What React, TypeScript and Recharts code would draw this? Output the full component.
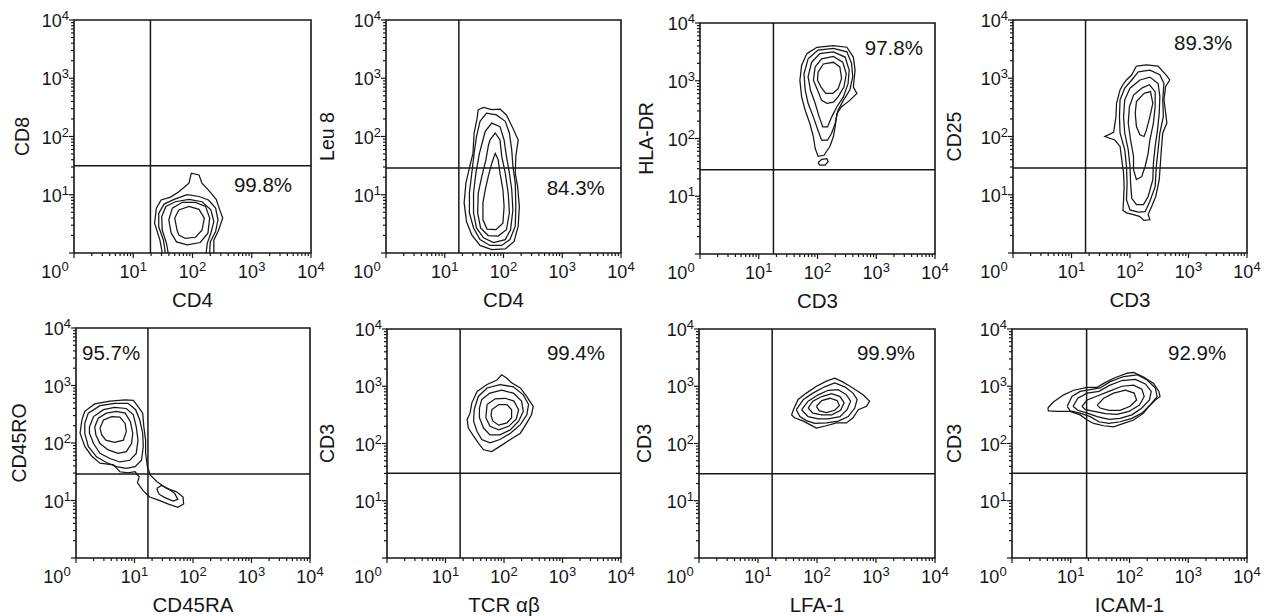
import React from 'react';
import { ScatterChart, Scatter, XAxis, YAxis, ReferenceLine, ReferenceArea, ReferenceDot } from 'recharts';

type Pt = [number, number];

const FONT = '"Liberation Sans", Arial, Helvetica, sans-serif';
const INK = '#161616';

// Axis decades (exponents of 10) and minor log ticks
const DECADES = [0, 1, 2, 3, 4];
const MINOR_MULTIPLIERS = [2, 3, 4, 5, 6, 7, 8, 9];

// Panel texts and gates (values in log10 decades)
const xTitles = ['CD4', 'CD4', 'CD3', 'CD3', 'CD45RA', 'TCR αβ', 'LFA-1', 'ICAM-1'];
const yTitles = ['CD8', 'Leu 8', 'HLA-DR', 'CD25', 'CD45RO', 'CD3', 'CD3', 'CD3'];
const percents = ['99.8%', '84.3%', '97.8%', '89.3%', '95.7%', '99.4%', '99.9%', '92.9%'];
const percentPos: Pt[] = [[3.19, 1.17], [3.23, 1.13], [3.3, 3.58], [3.25, 3.61], [0.6, 3.57], [3.23, 3.59], [3.17, 3.59], [3.15, 3.59]];
const gateX = [1.29, 1.24, 1.25, 1.24, 1.23, 1.25, 1.24, 1.27];
const gateY = [1.5, 1.46, 1.46, 1.46, 1.46, 1.48, 1.47, 1.48];

// ---- Panel 1: CD4 / CD8
const p1c1: Pt[] = [[1.49,0],[1.45,0.22],[1.36,0.51],[1.39,0.77],[1.47,0.91],[1.63,0.96],[1.77,1.05],[1.94,1.2],[1.98,1.37],[2.11,1.34],[2.16,1.2],[2.27,1.08],[2.4,0.92],[2.46,0.74],[2.51,0.6],[2.44,0.39],[2.36,0.22],[2.36,0]];
const p1c2: Pt[] = [[1.54,0],[1.51,0.22],[1.43,0.45],[1.43,0.68],[1.52,0.84],[1.69,0.92],[1.91,1.0],[2.11,0.97],[2.27,0.91],[2.39,0.77],[2.43,0.57],[2.39,0.37],[2.3,0.19],[2.29,0]];
const p1c3: Pt[] = [[1.59,0],[1.56,0.17],[1.49,0.39],[1.48,0.62],[1.55,0.8],[1.71,0.88],[1.94,0.92],[2.16,0.88],[2.31,0.74],[2.36,0.54],[2.31,0.34],[2.25,0.17],[2.23,0]];
const p1c4: Pt[] = [[1.64,0.34],[1.6,0.57],[1.66,0.77],[1.83,0.87],[2.05,0.87],[2.22,0.8],[2.29,0.6],[2.26,0.34],[2.13,0.18],[1.91,0.14],[1.73,0.19],[1.64,0.34]];
const p1c5: Pt[] = [[1.74,0.39],[1.7,0.6],[1.77,0.74],[1.94,0.8],[2.11,0.75],[2.2,0.6],[2.16,0.39],[2.05,0.27],[1.88,0.25],[1.77,0.31],[1.74,0.39]];

// ---- Panel 2: CD4 / Leu 8
const p2c1: Pt[] = [[1.57,2.46],[1.66,2.5],[1.8,2.46],[1.94,2.47],[2.05,2.37],[2.16,2.14],[2.25,1.94],[2.21,1.66],[2.2,1.37],[2.24,1.14],[2.27,0.8],[2.25,0.46],[2.18,0.2],[2.03,0.07],[1.8,0.06],[1.6,0.13],[1.46,0.31],[1.37,0.54],[1.33,0.86],[1.36,1.2],[1.42,1.46],[1.48,1.71],[1.5,2.06],[1.55,2.31],[1.57,2.46]];
const p2c2: Pt[] = [[1.6,2.26],[1.71,2.4],[1.88,2.37],[2.03,2.26],[2.1,2.06],[2.14,1.77],[2.16,1.49],[2.2,1.2],[2.21,0.8],[2.2,0.46],[2.11,0.23],[1.97,0.13],[1.77,0.13],[1.6,0.23],[1.49,0.43],[1.42,0.69],[1.42,1.03],[1.46,1.37],[1.5,1.71],[1.54,2.0],[1.6,2.26]];
const p2c3: Pt[] = [[1.69,2.09],[1.8,2.23],[1.94,2.17],[2.01,1.94],[2.05,1.66],[2.1,1.37],[2.14,1.09],[2.16,0.74],[2.12,0.4],[2.03,0.23],[1.83,0.18],[1.66,0.26],[1.54,0.43],[1.49,0.69],[1.49,1.03],[1.53,1.37],[1.59,1.71],[1.65,1.94],[1.69,2.09]];
const p2c4: Pt[] = [[1.77,1.94],[1.86,2.06],[1.94,1.94],[1.97,1.66],[2.03,1.37],[2.08,1.03],[2.1,0.69],[2.05,0.4],[1.91,0.29],[1.74,0.3],[1.61,0.43],[1.56,0.69],[1.57,1.03],[1.63,1.31],[1.7,1.6],[1.74,1.83],[1.77,1.94]];
const p2c5: Pt[] = [[1.8,1.54],[1.86,1.71],[1.91,1.6],[1.94,1.37],[1.99,1.09],[2.01,0.8],[1.99,0.51],[1.87,0.4],[1.72,0.41],[1.65,0.57],[1.65,0.86],[1.69,1.09],[1.74,1.31],[1.8,1.54]];

// ---- Panel 3: CD3 / HLA-DR
const p3c1: Pt[] = [[1.82,3.47],[1.99,3.58],[2.27,3.61],[2.5,3.58],[2.61,3.41],[2.64,3.18],[2.61,2.89],[2.67,2.78],[2.55,2.66],[2.41,2.55],[2.33,2.43],[2.3,2.2],[2.27,2.03],[2.21,1.86],[2.11,1.71],[2.01,1.69],[1.96,1.83],[1.93,2.03],[1.87,2.26],[1.79,2.49],[1.73,2.72],[1.7,3.01],[1.73,3.27],[1.82,3.47]];
const p3island: Pt[] = [[2.01,1.58],[2.07,1.64],[2.16,1.65],[2.18,1.6],[2.13,1.54],[2.04,1.54],[2.01,1.58]];
const p3c2: Pt[] = [[1.84,3.38],[2.01,3.53],[2.27,3.56],[2.5,3.5],[2.58,3.3],[2.6,3.07],[2.55,2.84],[2.44,2.66],[2.35,2.49],[2.3,2.26],[2.24,2.09],[2.17,1.97],[2.07,1.97],[2.01,2.14],[1.93,2.37],[1.84,2.61],[1.79,2.84],[1.77,3.12],[1.84,3.38]];
const p3c3: Pt[] = [[1.9,3.32],[2.04,3.47],[2.27,3.5],[2.47,3.41],[2.54,3.18],[2.52,2.95],[2.44,2.72],[2.33,2.55],[2.24,2.37],[2.17,2.2],[2.09,2.2],[2.03,2.37],[1.96,2.61],[1.88,2.84],[1.84,3.07],[1.9,3.32]];
const p3c4: Pt[] = [[1.96,3.24],[2.07,3.38],[2.27,3.42],[2.43,3.32],[2.49,3.12],[2.45,2.89],[2.35,2.72],[2.27,2.63],[2.16,2.61],[2.07,2.66],[2.0,2.84],[1.93,3.01],[1.96,3.24]];
const p3c5: Pt[] = [[2.01,3.15],[2.1,3.29],[2.27,3.32],[2.38,3.24],[2.41,3.04],[2.35,2.86],[2.26,2.78],[2.14,2.78],[2.06,2.89],[2.0,3.01],[2.01,3.15]];

// ---- Panel 4: CD3 / CD25
const p4c1: Pt[] = [[2.11,3.21],[2.28,3.23],[2.48,3.21],[2.63,3.04],[2.68,2.97],[2.61,2.86],[2.58,2.63],[2.61,2.4],[2.63,2.23],[2.56,2.06],[2.54,1.83],[2.52,1.54],[2.5,1.26],[2.44,0.97],[2.37,0.8],[2.31,0.66],[2.34,0.57],[2.24,0.56],[2.16,0.63],[2.06,0.66],[1.94,0.69],[1.88,0.73],[1.89,0.91],[1.9,1.14],[1.89,1.37],[1.86,1.6],[1.83,1.83],[1.74,1.94],[1.57,2.0],[1.72,2.07],[1.76,2.34],[1.77,2.57],[1.83,2.8],[1.88,2.89],[1.94,2.97],[2.03,3.06],[2.11,3.21]];
const p4c2: Pt[] = [[2.14,3.11],[2.34,3.14],[2.51,3.06],[2.58,2.91],[2.56,2.63],[2.57,2.34],[2.51,2.06],[2.48,1.77],[2.45,1.49],[2.43,1.14],[2.34,0.89],[2.26,0.71],[2.14,0.7],[2.0,0.74],[1.94,0.91],[1.95,1.2],[1.94,1.49],[1.91,1.77],[1.83,2.06],[1.82,2.34],[1.83,2.63],[1.91,2.83],[2.03,2.97],[2.14,3.11]];
const p4c3: Pt[] = [[2.17,2.97],[2.34,3.02],[2.48,2.91],[2.51,2.69],[2.5,2.4],[2.47,2.11],[2.43,1.83],[2.4,1.54],[2.39,1.26],[2.31,0.97],[2.23,0.83],[2.11,0.83],[2.03,0.94],[2.01,1.2],[2.0,1.49],[1.97,1.77],[1.91,2.06],[1.89,2.34],[1.91,2.63],[2.0,2.83],[2.17,2.97]];
const p4c4: Pt[] = [[2.2,2.83],[2.33,2.89],[2.43,2.77],[2.43,2.51],[2.4,2.23],[2.34,1.94],[2.31,1.71],[2.26,1.49],[2.2,1.31],[2.11,1.26],[2.06,1.43],[2.06,1.66],[2.01,1.94],[1.97,2.23],[1.99,2.51],[2.06,2.71],[2.2,2.83]];
const p4c5: Pt[] = [[2.24,2.74],[2.35,2.77],[2.39,2.57],[2.34,2.34],[2.28,2.11],[2.24,2.0],[2.17,2.03],[2.11,2.17],[2.09,2.4],[2.11,2.6],[2.24,2.74]];

// ---- Panel 5: CD45RA / CD45RO
const p5c1: Pt[] = [[0.1,2.4],[0.15,2.55],[0.32,2.68],[0.58,2.73],[0.84,2.75],[0.98,2.74],[1.05,2.65],[1.14,2.52],[1.16,2.28],[1.19,2.05],[1.19,1.82],[1.22,1.59],[1.27,1.44],[1.38,1.33],[1.55,1.21],[1.72,1.15],[1.83,1.06],[1.84,0.94],[1.74,0.88],[1.57,0.94],[1.4,1.01],[1.26,1.06],[1.14,1.18],[1.05,1.31],[1.08,1.41],[1.01,1.5],[0.89,1.48],[0.75,1.5],[0.64,1.62],[0.41,1.65],[0.27,1.77],[0.15,1.94],[0.07,2.17],[0.1,2.4]];
const p5tail: Pt[] = [[1.38,1.21],[1.46,1.26],[1.57,1.21],[1.69,1.12],[1.74,1.02],[1.66,0.99],[1.52,1.05],[1.42,1.11],[1.38,1.21]];
const p5c2: Pt[] = [[0.15,2.34],[0.21,2.52],[0.41,2.65],[0.66,2.69],[0.89,2.69],[1.02,2.58],[1.09,2.4],[1.14,2.17],[1.15,1.94],[1.12,1.7],[1.01,1.59],[0.86,1.56],[0.69,1.59],[0.52,1.66],[0.35,1.76],[0.21,1.94],[0.15,2.17],[0.15,2.34]];
const p5c3: Pt[] = [[0.23,2.28],[0.3,2.46],[0.47,2.58],[0.66,2.62],[0.86,2.6],[0.98,2.49],[1.03,2.28],[1.06,2.05],[1.03,1.82],[0.92,1.7],[0.75,1.67],[0.58,1.73],[0.41,1.82],[0.3,1.99],[0.23,2.17],[0.23,2.28]];
const p5c4: Pt[] = [[0.32,2.28],[0.38,2.43],[0.52,2.52],[0.69,2.55],[0.84,2.52],[0.93,2.37],[0.97,2.17],[0.95,1.99],[0.86,1.85],[0.72,1.82],[0.55,1.88],[0.41,1.99],[0.34,2.14],[0.32,2.28]];
const p5c5: Pt[] = [[0.41,2.26],[0.47,2.4],[0.61,2.46],[0.75,2.45],[0.84,2.34],[0.86,2.2],[0.81,2.05],[0.66,2.01],[0.51,2.05],[0.44,2.14],[0.41,2.26]];

// ---- Panel 6: TCR ab / CD3
const p6c1: Pt[] = [[1.54,2.91],[1.71,3.03],[1.88,3.11],[1.96,3.2],[2.05,3.14],[2.13,3.06],[2.28,2.97],[2.39,2.82],[2.5,2.65],[2.47,2.5],[2.39,2.36],[2.28,2.18],[2.11,2.07],[1.93,1.95],[1.79,1.86],[1.65,1.89],[1.56,2.01],[1.48,2.13],[1.39,2.27],[1.37,2.42],[1.42,2.53],[1.45,2.71],[1.54,2.91]];
const p6c2: Pt[] = [[1.56,2.82],[1.71,2.97],[1.93,3.03],[2.16,2.99],[2.33,2.85],[2.42,2.68],[2.39,2.5],[2.28,2.33],[2.11,2.18],[1.93,2.07],[1.76,2.01],[1.62,2.07],[1.54,2.21],[1.48,2.39],[1.49,2.59],[1.56,2.82]];
const p6c3: Pt[] = [[1.62,2.77],[1.76,2.88],[1.96,2.93],[2.16,2.88],[2.3,2.74],[2.33,2.56],[2.25,2.39],[2.11,2.24],[1.93,2.15],[1.76,2.15],[1.65,2.27],[1.58,2.45],[1.58,2.62],[1.62,2.77]];
const p6c4: Pt[] = [[1.71,2.68],[1.85,2.78],[2.02,2.79],[2.17,2.74],[2.25,2.59],[2.21,2.43],[2.08,2.3],[1.91,2.24],[1.76,2.3],[1.69,2.45],[1.71,2.68]];
const p6c5: Pt[] = [[1.79,2.59],[1.91,2.68],[2.05,2.68],[2.13,2.59],[2.13,2.45],[2.05,2.36],[1.91,2.32],[1.81,2.39],[1.78,2.49],[1.79,2.59]];

// ---- Panel 7: LFA-1 / CD3
const p7c1: Pt[] = [[1.6,2.59],[1.68,2.77],[1.82,2.88],[1.99,3.0],[2.16,3.09],[2.3,3.14],[2.41,3.09],[2.56,3.0],[2.7,2.91],[2.78,2.85],[2.89,2.74],[2.84,2.65],[2.7,2.59],[2.61,2.45],[2.5,2.36],[2.33,2.36],[2.16,2.31],[1.99,2.27],[1.88,2.33],[1.77,2.39],[1.62,2.45],[1.57,2.5],[1.6,2.59]];
const p7c2: Pt[] = [[1.65,2.59],[1.77,2.77],[1.93,2.88],[2.13,2.99],[2.3,3.06],[2.47,2.99],[2.61,2.88],[2.68,2.77],[2.64,2.62],[2.53,2.47],[2.36,2.39],[2.16,2.36],[1.96,2.35],[1.82,2.4],[1.71,2.47],[1.65,2.59]];
const p7c3: Pt[] = [[1.74,2.59],[1.85,2.74],[2.02,2.85],[2.19,2.93],[2.36,2.94],[2.5,2.85],[2.57,2.74],[2.51,2.59],[2.39,2.47],[2.19,2.43],[2.02,2.43],[1.85,2.47],[1.74,2.59]];
const p7c4: Pt[] = [[1.85,2.62],[1.93,2.74],[2.08,2.82],[2.25,2.87],[2.39,2.82],[2.46,2.71],[2.4,2.58],[2.25,2.5],[2.08,2.5],[1.93,2.53],[1.85,2.62]];
const p7c5: Pt[] = [[1.99,2.65],[2.08,2.75],[2.22,2.79],[2.34,2.75],[2.38,2.66],[2.3,2.58],[2.16,2.54],[2.04,2.57],[1.99,2.65]];

// ---- Panel 8: ICAM-1 / CD3
const p8c1: Pt[] = [[0.61,2.62],[0.71,2.73],[0.88,2.85],[1.05,2.93],[1.28,2.98],[1.45,2.98],[1.56,3.05],[1.73,3.14],[1.96,3.23],[2.07,3.24],[2.24,3.16],[2.41,3.05],[2.5,2.91],[2.52,2.82],[2.44,2.76],[2.33,2.65],[2.24,2.53],[2.07,2.41],[1.9,2.35],[1.73,2.29],[1.56,2.31],[1.39,2.35],[1.28,2.41],[1.16,2.5],[0.99,2.56],[0.77,2.56],[0.62,2.57],[0.61,2.62]];
const p8c2: Pt[] = [[0.94,2.65],[1.02,2.82],[1.16,2.91],[1.33,2.94],[1.5,2.97],[1.67,3.08],[1.9,3.17],[2.13,3.2],[2.3,3.11],[2.44,2.97],[2.47,2.82],[2.35,2.67],[2.21,2.53],[2.04,2.44],[1.84,2.38],[1.65,2.35],[1.48,2.38],[1.33,2.47],[1.16,2.53],[0.99,2.57],[0.94,2.65]];
const p8c3: Pt[] = [[1.04,2.65],[1.12,2.79],[1.28,2.88],[1.48,2.91],[1.65,3.01],[1.87,3.1],[2.1,3.12],[2.27,3.04],[2.37,2.91],[2.34,2.76],[2.21,2.62],[2.04,2.5],[1.84,2.44],[1.65,2.42],[1.45,2.47],[1.28,2.53],[1.12,2.58],[1.04,2.65]];
const p8c4: Pt[] = [[1.19,2.65],[1.28,2.76],[1.45,2.83],[1.65,2.91],[1.87,3.0],[2.07,3.02],[2.21,2.95],[2.25,2.82],[2.17,2.67],[1.99,2.56],[1.79,2.51],[1.59,2.52],[1.4,2.56],[1.25,2.59],[1.19,2.65]];
const p8c5: Pt[] = [[1.45,2.67],[1.56,2.79],[1.73,2.88],[1.93,2.93],[2.08,2.88],[2.12,2.76],[2.01,2.65],[1.84,2.58],[1.65,2.58],[1.5,2.62],[1.45,2.67]];

const panelContours: Pt[][][] = [
  [p1c1, p1c2, p1c3, p1c4, p1c5],
  [p2c1, p2c2, p2c3, p2c4, p2c5],
  [p3c1, p3island, p3c2, p3c3, p3c4, p3c5],
  [p4c1, p4c2, p4c3, p4c4, p4c5],
  [p5c1, p5tail, p5c2, p5c3, p5c4, p5c5],
  [p6c1, p6c2, p6c3, p6c4, p6c5],
  [p7c1, p7c2, p7c3, p7c4, p7c5],
  [p8c1, p8c2, p8c3, p8c4, p8c5],
];

// Layout (pixel box of each plot area) — presentation only
const boxes = [
  { left: 74, top: 20, w: 237, h: 233, yOff: 52 },
  { left: 386, top: 20, w: 235, h: 233, yOff: 59 },
  { left: 700, top: 23, w: 235, h: 231, yOff: 54 },
  { left: 1013, top: 20, w: 234, h: 233, yOff: 59 },
  { left: 76, top: 328, w: 234, h: 230, yOff: 57 },
  { left: 387, top: 329, w: 234, h: 229, yOff: 60 },
  { left: 699, top: 329, w: 236, h: 229, yOff: 55 },
  { left: 1012, top: 329, w: 235, h: 229, yOff: 58 },
];

const minorTicks: number[] = [];
DECADES.slice(0, -1).forEach((d) => MINOR_MULTIPLIERS.forEach((m) => minorTicks.push(d + Math.log10(m))));
const allTicks = [...DECADES, ...minorTicks].sort((a, b) => a - b);

const toPoints = (c: Pt[]) => c.map(([x, y]) => ({ x, y }));
const EmptyShape = () => <g />;

const XTick = (props: any) => {
  const { x, y, payload } = props;
  const v = payload.value;
  const major = Number.isInteger(v);
  return (
    <g>
      <line x1={x} x2={x} y1={y} y2={y + (major ? 5 : 3)} stroke={INK} strokeWidth={1.2} />
      {major && (
        <text x={x + (v === 0 ? -19 : 0)} y={y + 25} textAnchor="middle" fontSize={18} fill={INK} fontFamily={FONT}>
          10<tspan fontSize={13} dy={-7}>{v}</tspan>
        </text>
      )}
    </g>
  );
};

const YTick = (props: any) => {
  const { x, y, payload } = props;
  const v = payload.value;
  const major = Number.isInteger(v);
  return (
    <g>
      <line x1={x - (major ? 5 : 3)} x2={x} y1={y} y2={y} stroke={INK} strokeWidth={1.2} />
      {major && v !== 0 && (
        <text x={x - 5} y={y + 7} textAnchor="end" fontSize={18} fill={INK} fontFamily={FONT}>
          10<tspan fontSize={13} dy={-7}>{v}</tspan>
        </text>
      )}
    </g>
  );
};

const Panel = ({ i }: { i: number }) => {
  const b = boxes[i];
  const ML = 70, MT = 20, MR = 24, MB = 62;
  const width = ML + b.w + MR;
  const height = MT + b.h + MB;
  const xTitle = xTitles[i];
  const yTitle = yTitles[i];
  return (
    <div style={{ position: 'absolute', left: b.left - ML, top: b.top - MT, width, height }}>
      <ScatterChart width={width} height={height} margin={{ top: MT, right: MR, left: 0, bottom: 0 }}>
        <XAxis
          type="number"
          dataKey="x"
          domain={[0, 4]}
          ticks={allTicks}
          interval={0}
          allowDataOverflow
          axisLine={false}
          tickLine={false}
          tickSize={0}
          tickMargin={0}
          height={MB}
          tick={<XTick />}
          label={{
            content: (p: any) => {
              const vb = p.viewBox || { x: ML, y: MT + b.h, width: b.w };
              return (
                <text x={vb.x + vb.width / 2} y={vb.y + 54} textAnchor="middle" fontSize={20.5} fill={INK} fontFamily={FONT}>
                  {xTitle}
                </text>
              );
            },
          }}
        />
        <YAxis
          type="number"
          dataKey="y"
          domain={[0, 4]}
          ticks={allTicks}
          interval={0}
          allowDataOverflow
          axisLine={false}
          tickLine={false}
          tickSize={0}
          tickMargin={0}
          width={ML}
          tick={<YTick />}
          label={{
            content: (p: any) => {
              const vb = p.viewBox || { x: 0, y: MT, width: ML, height: b.h };
              const cx = vb.x + vb.width - b.yOff;
              const cy = vb.y + vb.height / 2;
              return (
                <text x={cx} y={cy} dy="0.35em" transform={`rotate(-90 ${cx} ${cy})`} textAnchor="middle" fontSize={19.5} fill={INK} fontFamily={FONT}>
                  {yTitle}
                </text>
              );
            },
          }}
        />
        <ReferenceArea x1={0} x2={4} y1={0} y2={4} fill="none" stroke={INK} strokeWidth={1.6} fillOpacity={0} />
        <ReferenceLine x={gateX[i]} stroke={INK} strokeWidth={1.5} />
        <ReferenceLine y={gateY[i]} stroke={INK} strokeWidth={1.5} />
        {panelContours[i].map((c, k) => (
          <Scatter
            key={k}
            data={toPoints(c)}
            isAnimationActive={false}
            shape={EmptyShape}
            line={{ stroke: INK, strokeWidth: 1.25, fill: 'none' }}
            lineType="joint"
            lineJointType="linear"
          />
        ))}
        <ReferenceDot
          x={percentPos[i][0]}
          y={percentPos[i][1]}
          r={1}
          fill="none"
          stroke="none"
          label={{
            content: (p: any) => {
              const vb = p.viewBox || { x: 0, y: 0, width: 0, height: 0 };
              return (
                <text x={vb.x + vb.width / 2} y={vb.y + vb.height / 2} dy="0.36em" textAnchor="middle" fontSize={20.5} fill={INK} fontFamily={FONT}>
                  {percents[i]}
                </text>
              );
            },
          }}
        />
      </ScatterChart>
    </div>
  );
};

export default function App() {
  return (
    <div style={{ position: 'absolute', left: 0, top: 0, width: 1274, height: 616, background: '#fff', overflow: 'hidden' }}>
      {boxes.map((_, i) => (
        <Panel key={i} i={i} />
      ))}
    </div>
  );
}
